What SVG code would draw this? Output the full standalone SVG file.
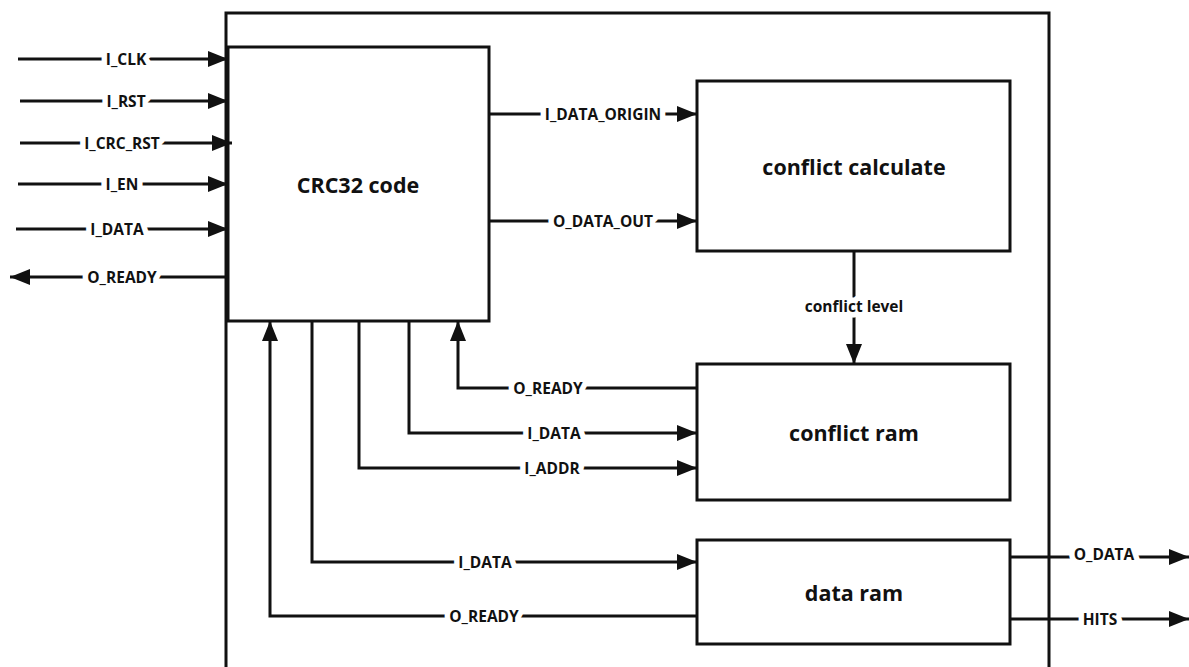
<svg xmlns="http://www.w3.org/2000/svg" width="1189" height="667" viewBox="0 0 1189 667">
  <style>
    .box { fill: #ffffff; stroke: #111111; stroke-width: 3; }
    .frame { fill: none; stroke: #111111; stroke-width: 3; }
    .wire { fill: none; stroke: #111111; stroke-width: 3; }
    .arr { marker-end: url(#head); }
    .lbl { font-family: "Open Sans", "Noto Sans", "DejaVu Sans", sans-serif; font-weight: bold; font-size: 15.5px; fill: #111111; text-anchor: middle; paint-order: stroke; stroke: #ffffff; stroke-width: 11px; stroke-linejoin: round; }
    .title { font-family: "Open Sans", "Noto Sans", "DejaVu Sans", sans-serif; font-weight: bold; font-size: 21.5px; fill: #111111; text-anchor: middle; }
  </style>
  <defs>
    <marker id="head" markerUnits="userSpaceOnUse" markerWidth="20" markerHeight="16" refX="20" refY="8" orient="auto">
      <path d="M0,0 L20,8 L0,16 Z" fill="#111111"/>
    </marker>
  </defs>

  <rect width="1189" height="667" fill="#ffffff"/>

  <!-- outer module frame, open at the bottom -->
  <path class="frame" d="M226,667 V13 H1049 V667"/>

  <g id="crc32">
    <rect class="box" x="228" y="47" width="261" height="274"/>
    <text class="title" x="358" y="193">CRC32 code</text>
  </g>

  <g id="conflict-calculate">
    <rect class="box" x="697" y="81" width="313" height="170"/>
    <text class="title" x="854" y="175">conflict calculate</text>
  </g>

  <g id="conflict-ram">
    <rect class="box" x="697" y="364" width="313" height="136"/>
    <text class="title" x="854" y="441">conflict ram</text>
  </g>

  <g id="data-ram">
    <rect class="box" x="697" y="540" width="313" height="104"/>
    <text class="title" x="854" y="601">data ram</text>
  </g>

  <g id="connectors">
    <!-- module inputs / outputs on the left -->
    <path class="wire arr" d="M18,59 H228"/>
    <text class="lbl" x="126" y="65">I_CLK</text>
    <path class="wire arr" d="M20,101 H228"/>
    <text class="lbl" x="126" y="107">I_RST</text>
    <path class="wire arr" d="M20,143 H232"/>
    <text class="lbl" x="122" y="149">I_CRC_RST</text>
    <path class="wire arr" d="M18,184 H228"/>
    <text class="lbl" x="122" y="190">I_EN</text>
    <path class="wire arr" d="M16,229 H228"/>
    <text class="lbl" x="117" y="235">I_DATA</text>
    <path class="wire arr" d="M228,277 H10"/>
    <text class="lbl" x="122" y="283">O_READY</text>

    <!-- crc32 to conflict calculate -->
    <path class="wire arr" d="M489,114 H697"/>
    <text class="lbl" x="603" y="120">I_DATA_ORIGIN</text>
    <path class="wire arr" d="M489,221 H697"/>
    <text class="lbl" x="603" y="227">O_DATA_OUT</text>

    <!-- conflict calculate to conflict ram -->
    <path class="wire arr" d="M854,251 V364"/>
    <text class="lbl" x="854" y="312">conflict level</text>

    <!-- crc32 and conflict ram -->
    <path class="wire arr" d="M697,388 H458 V321"/>
    <text class="lbl" x="548" y="394">O_READY</text>
    <path class="wire arr" d="M409,321 V433 H697"/>
    <text class="lbl" x="554" y="439">I_DATA</text>
    <path class="wire arr" d="M359,321 V468 H697"/>
    <text class="lbl" x="552" y="474">I_ADDR</text>

    <!-- crc32 and data ram -->
    <path class="wire arr" d="M312,321 V562 H697"/>
    <text class="lbl" x="485" y="568">I_DATA</text>
    <path class="wire arr" d="M697,616 H270 V321"/>
    <text class="lbl" x="484" y="622">O_READY</text>

    <!-- module outputs on the right -->
    <path class="wire arr" d="M1010,557 H1189"/>
    <text class="lbl" x="1104" y="560">O_DATA</text>
    <path class="wire arr" d="M1010,619 H1189"/>
    <text class="lbl" x="1100" y="625">HITS</text>
  </g>
</svg>
